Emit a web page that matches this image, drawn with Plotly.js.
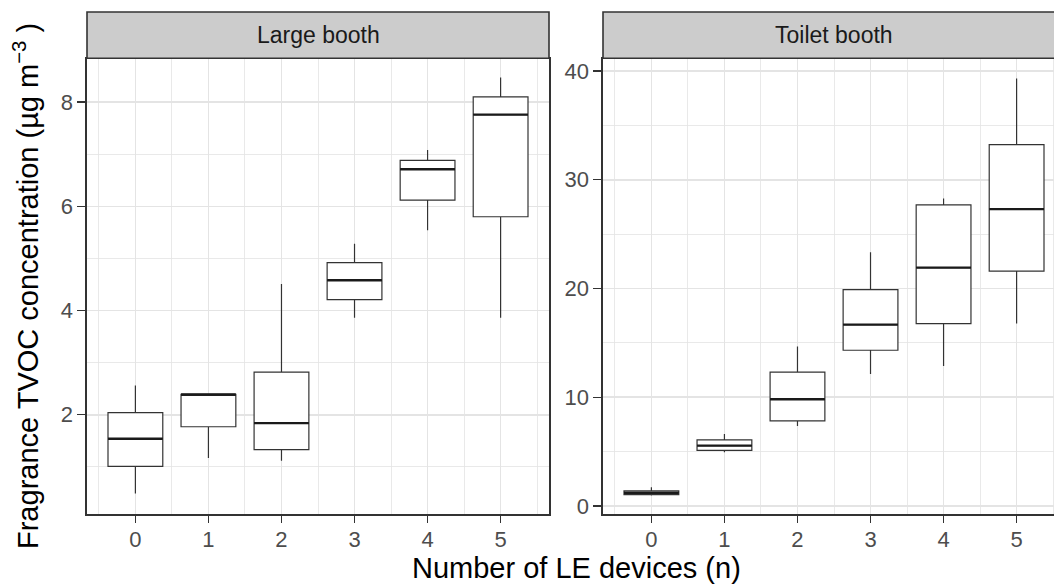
<!DOCTYPE html>
<html>
<head>
<meta charset="utf-8">
<script src="https://cdn.plot.ly/plotly-3.0.1.min.js"></script>
<style>
html, body { margin: 0; padding: 0; overflow: hidden; background: #fff; }
#chart { width: 1066px; height: 585px; }
</style>
</head>
<body>
<div id="chart"></div>
<script>
// ---- data ----
const devices = [0, 1, 2, 3, 4, 5];
const xTickLabels = ["0", "1", "2", "3", "4", "5"];
const panelTitles = ["Large booth", "Toilet booth"];

const largeLower  = [0.49, 1.17, 1.12, 3.86, 5.54, 3.86];
const largeQ1     = [1.01, 1.77, 1.33, 4.21, 6.12, 5.80];
const largeMedian = [1.54, 2.39, 1.84, 4.58, 6.71, 7.76];
const largeQ3     = [2.04, 2.39, 2.82, 4.92, 6.88, 8.10];
const largeUpper  = [2.56, 2.39, 4.51, 5.28, 7.08, 8.47];

const toiletLower  = [0.95, 4.94, 7.36, 12.14, 12.88, 16.77];
const toiletQ1     = [1.04, 5.12, 7.82, 14.32, 16.77, 21.59];
const toiletMedian = [1.22, 5.55, 9.81, 16.68, 21.92, 27.30];
const toiletQ3     = [1.38, 6.07, 12.30, 19.90, 27.69, 33.24];
const toiletUpper  = [1.72, 6.62, 14.66, 23.34, 28.27, 39.31];

// ---- styling ----
const W = 1066, H = 585;
const FONT = "Liberation Sans, Arial, Helvetica, sans-serif";
const BOXW = 0.75;
const dark = "#333333";
const gridCol = "#E4E4E4";

function px(x) { return x / W; }
function py(y) { return (H - y) / H; }

const leftDom = [px(87), px(549)];
const rightDom = [px(603), px(1065)];
const yDom = [py(514), py(58.3)];

function boxTrace(q1, med, q3, lo, hi, xa, ya) {
  return {
    type: "box", x: devices, q1: q1, median: med, q3: q3,
    lowerfence: lo, upperfence: hi,
    width: BOXW, whiskerwidth: 0, boxpoints: false,
    fillcolor: "#FFFFFF",
    line: { color: dark, width: 1.2 },
    xaxis: xa, yaxis: ya, hoverinfo: "skip", showlegend: false
  };
}
function medianTrace(med, xa, ya) {
  const xs = [], ys = [];
  devices.forEach((d, i) => {
    xs.push(d - BOXW / 2, d + BOXW / 2, null);
    ys.push(med[i], med[i], null);
  });
  return {
    type: "scatter", mode: "lines", x: xs, y: ys,
    line: { color: "#1A1A1A", width: 2.4 },
    xaxis: xa, yaxis: ya, hoverinfo: "skip", showlegend: false
  };
}

const data = [
  boxTrace(largeQ1, largeMedian, largeQ3, largeLower, largeUpper, "x", "y"),
  boxTrace(toiletQ1, toiletMedian, toiletQ3, toiletLower, toiletUpper, "x2", "y2"),
  medianTrace(largeMedian, "x", "y"),
  medianTrace(toiletMedian, "x2", "y2")
];

function xAxis(dom, rng, anchor) {
  return {
    domain: dom, range: rng, anchor: anchor,
    tickmode: "array", tickvals: devices, ticktext: xTickLabels,
    ticks: "outside", ticklen: 7, tickwidth: 1.4, tickcolor: dark,
    ticklabelstandoff: -2,
    tickfont: { family: FONT, size: 22, color: "#4D4D4D" },
    showgrid: true, gridcolor: gridCol, gridwidth: 1.6,
    minor: { dtick: 0.5, tick0: 0.5, showgrid: true, gridcolor: gridCol, gridwidth: 0.8 },
    showline: true, linecolor: dark, linewidth: 1.6, mirror: true,
    zeroline: false, fixedrange: true
  };
}
function yAxis(rng, dtick, anchor) {
  return {
    domain: yDom, range: rng, anchor: anchor,
    tick0: 0, dtick: dtick,
    ticks: "outside", ticklen: 8, tickwidth: 1.4, tickcolor: dark,
    tickfont: { family: FONT, size: 22, color: "#4D4D4D" },
    showgrid: true, gridcolor: gridCol, gridwidth: 1.6,
    minor: { dtick: dtick / 2, showgrid: true, gridcolor: gridCol, gridwidth: 0.8 },
    showline: true, linecolor: dark, linewidth: 1.6, mirror: true,
    zeroline: false, fixedrange: true
  };
}

const stripY = [py(58.3), py(12)];
function strip(dom) {
  return {
    type: "rect", xref: "paper", yref: "paper",
    x0: dom[0], x1: dom[1], y0: stripY[0], y1: stripY[1],
    fillcolor: "#CCCCCC", line: { color: dark, width: 1.6 }, layer: "above"
  };
}
function stripLabel(text, dom) {
  return {
    text: text, xref: "paper", yref: "paper",
    x: (dom[0] + dom[1]) / 2, y: (stripY[0] + stripY[1]) / 2,
    xanchor: "center", yanchor: "middle", showarrow: false,
    font: { family: FONT, size: 23, color: "#1A1A1A" }
  };
}

const layout = {
  width: W, height: H,
  margin: { l: 0, r: 0, t: 0, b: 0 },
  paper_bgcolor: "#FFFFFF", plot_bgcolor: "#FFFFFF",
  showlegend: false,
  xaxis: xAxis(leftDom, [-0.6625, 5.6625], "y"),
  yaxis: yAxis([0.096, 8.84], 2, "x"),
  xaxis2: xAxis(rightDom, [-0.6625, 5.6625], "y2"),
  yaxis2: yAxis([-0.74, 41.17], 10, "x2"),
  shapes: [strip(leftDom), strip(rightDom)],
  annotations: [
    stripLabel(panelTitles[0], leftDom),
    stripLabel(panelTitles[1], rightDom),
    {
      text: "Number of LE devices (n)", xref: "paper", yref: "paper",
      x: px(576), y: py(568), xanchor: "center", yanchor: "middle",
      showarrow: false, font: { family: FONT, size: 29, color: "#000000" }
    },
    {
      text: "Fragrance TVOC concentration (µg m<sup>−3</sup> )", xref: "paper", yref: "paper",
      x: px(26), y: py(286), xanchor: "center", yanchor: "middle", textangle: -90,
      showarrow: false, font: { family: FONT, size: 29, color: "#000000" }
    }
  ]
};

Plotly.newPlot("chart", data, layout, { displayModeBar: false, staticPlot: true });
</script>
</body>
</html>
